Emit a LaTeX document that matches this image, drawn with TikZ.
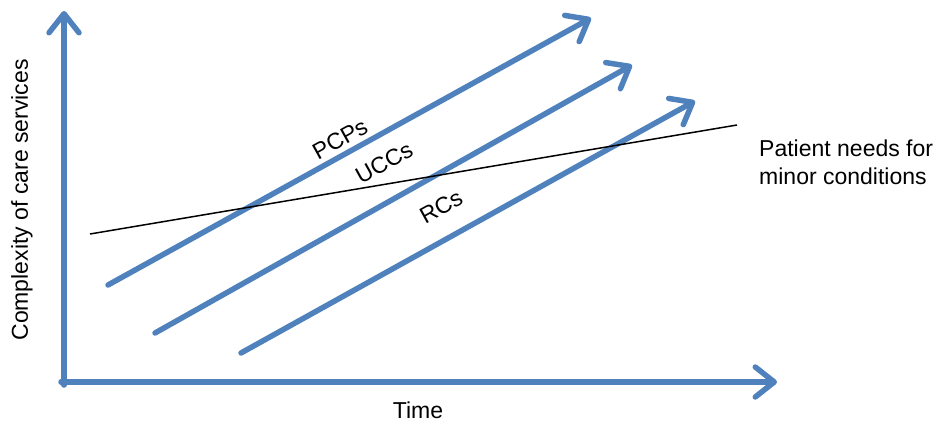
\documentclass[tikz,border=0pt]{standalone}
\usepackage{fontspec}
\setmainfont{Liberation Sans}
\usetikzlibrary{arrows.meta}
\begin{document}
\begin{tikzpicture}[x=1pt,y=-1pt,
  bluearrow/.style={draw={rgb,255:red,79;green,129;blue,189}, line width=5.5pt, line cap=round,
    -{Straight Barb[length=19pt,width=30pt,line cap=round,line join=round]}},
  lbl/.style={font=\fontsize{23}{27}\selectfont, inner sep=0pt}]
\useasboundingbox (0,0) rectangle (933,422);
\coordinate (o) at (64,382);
\coordinate (ytip) at (64,11);
\coordinate (xtip) at (777,382);
\draw[bluearrow] (64,385) -- (ytip);
\draw[bluearrow] (61,382) -- (xtip);
\coordinate (p1) at (108,285); \coordinate (p2) at (591,18);
\coordinate (u1) at (155,333); \coordinate (u2) at (632,65);
\coordinate (r1) at (241,353); \coordinate (r2) at (695,101);
\draw[bluearrow] (p1) -- (p2);
\draw[bluearrow] (u1) -- (u2);
\draw[bluearrow] (r1) -- (r2);
\coordinate (n1) at (90,234); \coordinate (n2) at (737,125);
\draw[line width=1.5pt] (n1) -- (n2);
\node[lbl, rotate=29] (pcp) at (340,139) {PCPs};
\node[lbl, rotate=29] (ucc) at (384,163) {UCCs};
\node[lbl, rotate=29] (rc) at (441,207) {RCs};
\node[lbl, anchor=west, align=left, font=\fontsize{23}{28}\selectfont] (pn) at (759,162) {Patient needs for\\minor conditions};
\node[lbl] (time) at (418,410) {Time};
\node[lbl, rotate=90] (cx) at (22,200) {Complexity of care services};
\end{tikzpicture}
\end{document}
